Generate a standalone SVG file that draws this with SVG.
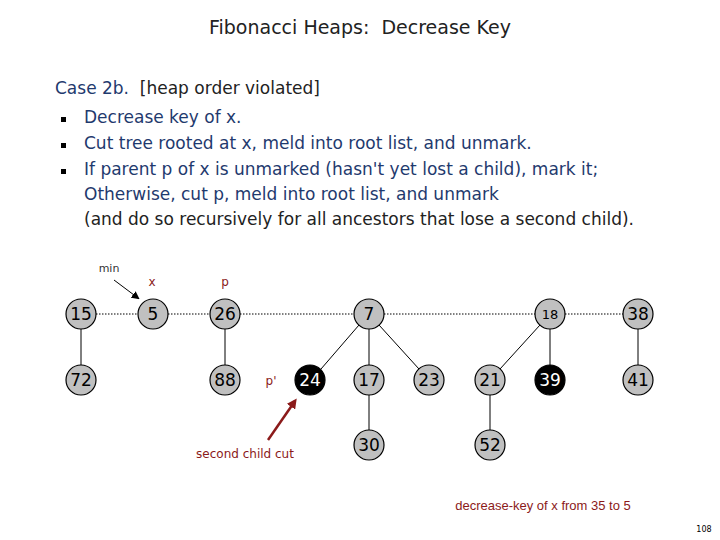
<svg xmlns="http://www.w3.org/2000/svg" width="720" height="540" viewBox="0 0 720 540">
<style>
text{font-family:"DejaVu Sans","Noto Sans",sans-serif}
.t{font-size:17px;fill:#222}
.b{font-size:17px;fill:#1f3a6e}
.n circle{fill:#c0c0c0;stroke:#000;stroke-width:1.2}
.n text{font-size:17px;text-anchor:middle;fill:#000}
.k circle{fill:#000}
.k text{fill:#fff}
.e line{stroke:#000;stroke-width:1}
.d{stroke-dasharray:1.5 1.5}
.r{font-size:12px;fill:#8b1a1a}
</style>
<defs>
<marker id="ab" markerWidth="8" markerHeight="8" refX="6" refY="4" orient="auto" markerUnits="userSpaceOnUse"><path d="M0,0L8,4L0,8z" fill="#000"/></marker>
<marker id="ar" markerWidth="10" markerHeight="10" refX="7" refY="5" orient="auto" markerUnits="userSpaceOnUse"><path d="M0,0L10,5L0,10z" fill="#8b1a1a"/></marker>
</defs>
<rect width="720" height="540" fill="#fff"/>
<text x="360" y="34" text-anchor="middle" style="font-size:19px;fill:#222" xml:space="preserve">Fibonacci Heaps:  Decrease Key</text>
<text x="55" y="94" class="t" xml:space="preserve"><tspan class="b">Case 2b.</tspan>  [heap order violated]</text>
<g fill="#000"><rect x="61" y="117" width="5" height="5"/><rect x="61" y="143" width="5" height="5"/><rect x="61" y="169" width="5" height="5"/></g>
<text x="84" y="123" class="b">Decrease key of x.</text>
<text x="84" y="149" class="b">Cut tree rooted at x, meld into root list, and unmark.</text>
<text x="84" y="175" class="b">If parent p of x is unmarked (hasn't yet lost a child), mark it;</text>
<text x="84" y="200" class="b">Otherwise, cut p, meld into root list, and unmark</text>
<text x="84" y="225" class="t">(and do so recursively for all ancestors that lose a second child).</text>
<text x="109" y="272" style="font-size:11px;fill:#333" text-anchor="middle">min</text>
<text x="152" y="286" class="r" text-anchor="middle">x</text>
<text x="225" y="286" class="r" text-anchor="middle">p</text>
<text x="271" y="385" class="r" text-anchor="middle">p'</text>
<text x="245" y="458" class="r" text-anchor="middle">second child cut</text>
<text x="543" y="510" text-anchor="middle" style="font-family:'Liberation Sans',Arial,sans-serif;font-size:13px;fill:#8b1a1a">decrease-key of x from 35 to 5</text>
<text x="704" y="532" text-anchor="middle" style="font-size:8px;fill:#000">108</text>
<g id="connectors" class="e">
<line x1="96" y1="314" x2="138" y2="314" class="d"/>
<line x1="168" y1="314" x2="210" y2="314" class="d"/>
<line x1="240" y1="314" x2="354" y2="314" class="d"/>
<line x1="384" y1="314" x2="535" y2="314" class="d"/>
<line x1="565" y1="314" x2="623" y2="314" class="d"/>
<line x1="81" y1="329" x2="81" y2="365"/>
<line x1="225" y1="329" x2="225" y2="365"/>
<line x1="359" y1="325" x2="321" y2="369"/>
<line x1="369" y1="329" x2="369" y2="365"/>
<line x1="379" y1="325" x2="419" y2="369"/>
<line x1="369" y1="395" x2="369" y2="430"/>
<line x1="540" y1="325" x2="500" y2="369"/>
<line x1="550" y1="329" x2="550" y2="365"/>
<line x1="490" y1="395" x2="490" y2="430"/>
<line x1="638" y1="329" x2="638" y2="365"/>
<line x1="114" y1="280" x2="138" y2="298" stroke-width="2.5" marker-end="url(#ab)"/>
<line x1="268" y1="440" x2="295" y2="401" style="stroke:#8b1a1a;stroke-width:2.5" marker-end="url(#ar)"/>
</g>
<g id="n15" class="n"><circle cx="81" cy="314" r="15"/><text x="81" y="320">15</text></g>
<g id="n72" class="n"><circle cx="81" cy="380" r="15"/><text x="81" y="386">72</text></g>
<g id="n5" class="n"><circle cx="153" cy="314" r="15"/><text x="153" y="320">5</text></g>
<g id="n26" class="n"><circle cx="225" cy="314" r="15"/><text x="225" y="320">26</text></g>
<g id="n88" class="n"><circle cx="225" cy="380" r="15"/><text x="225" y="386">88</text></g>
<g id="n24" class="n k"><circle cx="310" cy="380" r="15"/><text x="310" y="386">24</text></g>
<g id="n7" class="n"><circle cx="369" cy="314" r="15"/><text x="369" y="320">7</text></g>
<g id="n17" class="n"><circle cx="369" cy="380" r="15"/><text x="369" y="386">17</text></g>
<g id="n30" class="n"><circle cx="369" cy="445" r="15"/><text x="369" y="451">30</text></g>
<g id="n23" class="n"><circle cx="429" cy="380" r="15"/><text x="429" y="386">23</text></g>
<g id="n21" class="n"><circle cx="490" cy="380" r="15"/><text x="490" y="386">21</text></g>
<g id="n52" class="n"><circle cx="490" cy="445" r="15"/><text x="490" y="451">52</text></g>
<g id="n18" class="n"><circle cx="550" cy="314" r="15"/><text x="550" y="319" style="font-size:13px">18</text></g>
<g id="n39" class="n k"><circle cx="550" cy="380" r="15"/><text x="550" y="386">39</text></g>
<g id="n38" class="n"><circle cx="638" cy="314" r="15"/><text x="638" y="320">38</text></g>
<g id="n41" class="n"><circle cx="638" cy="380" r="15"/><text x="638" y="386">41</text></g>
</svg>
